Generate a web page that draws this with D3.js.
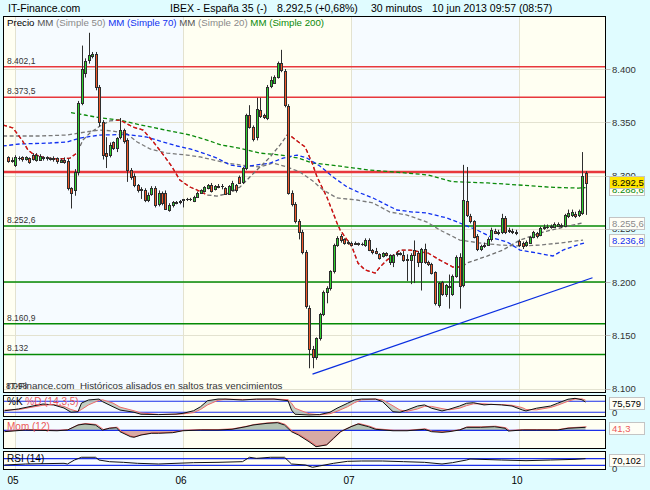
<!DOCTYPE html>
<html><head><meta charset="utf-8">
<script src="https://cdn.jsdelivr.net/npm/d3@7/dist/d3.min.js"></script>
<style>
html,body{margin:0;padding:0;background:#e0fcff;overflow:hidden}
svg{display:block}
text{font-family:"Liberation Sans",Arial,sans-serif;white-space:pre}
</style></head><body>
<svg id="chart" width="650" height="490"></svg>
<script>
// ---- IBEX 35, 10-minute bars, 05-10 jun 2013 ----
const opens=[8317,8314,8310,8316,8317,8315.5,8316,8319,8314.5,8315,
8317,8316,8316,8315.5,8316,8313,8315,8314,8288,8286,
8303,8368,8396,8408.5,8412,8414,8383,8350,8321,8319,
8331,8326,8336,8343,8333,8305,8300,8291,8286,8286,
8277,8283,8288,8273,8284,8284,8268,8272,8274,8275,
8277,8277.5,8278,8276,8280,8284,8285,8288,8291,8287.5,
8289.5,8290,8288,8283,8286,8291,8298.5,8294,8307,8357,
8345.5,8336,8361.5,8357,8354,8384,8387,8392.5,8405.6,8398,
8365,8284,8273,8257,8247,8228,8176,8137,8130,8147,
8170,8191,8194,8210,8235,8243,8240,8237,8236.6,8236,
8236,8235.5,8234.7,8239.4,8230,8229,8226,8224,8227,8218.5,
8219,8226,8227,8225,8222,8221,8230,8227,8219,8231,
8219,8217,8209,8178,8200,8189,8195,8189,8205.6,8223.5,
8197,8276,8262,8257,8243,8231,8233.5,8235,8240,8248,
8246,8247,8260,8249,8248,8247,8238.5,8237,8235,8237,
8242,8246,8244,8250.7,8252,8252,8252,8253,8253.5,8253,
8262,8263,8263.5,8263,8265,8302.5];
const highs=[8318,8317,8319,8318,8318,8318,8317,8321,8321,8320,
8318,8318,8317,8318,8317,8316,8317,8316,8289,8306,
8370,8422,8410,8434,8416,8416,8385,8352,8336,8331,
8332,8336,8354,8344,8335,8307,8302,8292,8289,8288,
8284,8290,8290,8286,8285,8286,8274,8276,8276,8277,
8278,8279,8279,8281,8285,8287,8290,8292,8293,8291,
8292,8292,8289,8291,8295,8292,8300,8308,8358,8366,
8347,8373,8373,8358,8385,8393,8394,8407,8418,8400,
8367,8286,8275,8259,8249,8230,8178,8140,8148,8171,
8192,8196,8211,8236,8243,8245,8241,8239,8238,8238,
8237,8237,8241,8241,8231,8232,8227,8228,8228,8226,
8226,8229,8228,8229,8226,8227,8239,8229,8232,8236,
8220,8218,8210,8200,8201,8198,8207,8207,8225,8227,
8310,8308,8264,8258,8245,8235,8237,8242,8251,8250,
8249,8264,8262,8251,8250,8249,8240,8238,8239,8243,
8248,8247,8252,8254,8254,8254,8256,8256,8255,8264,
8268,8268,8266,8268,8322,8304];
const lows=[8312,8312,8308,8314,8313,8314,8311,8314,8313,8314,
8314,8314,8314,8313,8311,8312,8311,8286,8269,8281,
8300,8366,8392,8405,8410,8380,8346,8315,8307,8317,
8324,8322,8334,8330,8294,8296,8289,8284,8278,8275,
8275,8281,8270,8271,8272,8268,8266,8270,8273,8273,
8270,8276,8276,8275,8279,8283,8284,8287,8284,8286,
8288,8287,8282,8282,8285,8284,8292,8292,8305,8344,
8332,8333,8354,8353,8352,8382,8386,8391,8397,8364,
8282,8271,8255,8240,8226,8175,8119,8119,8127,8145,
8168,8180,8192,8208,8233,8237,8235,8235,8234,8235,
8234,8234,8233,8229,8226,8226,8221,8223,8224,8216,
8214,8224,8225,8219,8201,8198,8199,8214,8192,8217,
8215,8207,8178,8176,8187,8186,8175,8187,8204,8175,
8195,8261,8255,8241,8229,8229,8232,8234,8238,8245,
8244,8245,8245,8246,8245,8244,8233,8231,8233,8236,
8241,8241,8243,8249,8250,8250,8251,8252,8251,8252,
8260,8261,8260,8261,8263,8263];
const closes=[8314,8315,8317.5,8316.5,8315.5,8317,8313,8315.5,8319,8318,
8316,8317,8315.5,8316,8314,8315,8313,8288,8284,8303,
8368,8400,8407.5,8413,8414,8383,8350,8319,8318,8329,
8326,8335,8343,8332,8305,8299,8291,8286,8287,8277,
8282,8288,8272,8284,8274,8268.5,8272,8275,8275,8276,
8277.5,8278,8277.5,8280,8284,8286,8289,8291,8285,8290,
8290.5,8290.2,8283,8290,8293,8286,8293,8307,8357,8345.5,
8334,8362.5,8356,8355,8383,8390,8392.5,8405.6,8399,8366,
8284,8273,8257,8247,8228,8177,8137,8130,8147,8170,
8191,8194,8210,8235,8241,8239,8237,8237.3,8235,8236.5,
8236.2,8236,8239.4,8230,8228,8227,8222.5,8227,8225,8225,
8225,8227,8226,8220.6,8221,8225,8225,8219,8231,8219,
8217,8208.5,8180,8199,8189,8197,8196,8205.6,8223.5,8196,
8277,8263,8257,8242.5,8230.7,8233.5,8235,8240,8249,8246,
8247,8260,8247,8248,8247,8246,8235,8234,8238,8242,
8247,8243,8250.7,8252,8251.5,8252.5,8254,8254,8253,8263,
8265,8265.5,8262,8266.5,8300,8292.5];
const prevClose=8236.5;

const dayLabels=["05","06","07","10"];
const dayStarts=[2,50,98,146];
const priceTicks=[8100,8150,8200,8250,8300,8350,8400];
const redLevels=[8402.1,8373.5,8303.3];
const greenLevels=[8252.6,8200,8160.9,8132];
const tagLevels=[8402.1,8373.5,8252.6,8160.9,8132];
const lowTag=8098;

// moving averages, [bar, value]
const ma200=[[18,8359],[22,8356.8],[26,8354.3],[32,8352],[38,8347.4],[45,8342.7],[52,8338],[55,8335.2],[61,8328.6],[66,8325.8],[72,8321],[78,8319.2],[83,8316.3],[87,8311.7],[92,8309.9],[99,8307],[103,8305.2],[114,8302.3],[120,8300.5],[127,8294.2],[137,8293],[146,8291.1],[156,8288.8],[163,8288.2],[165,8288.6]];
const ma70=[[-1.5,8327.7],[3.4,8329.6],[12,8330.5],[17,8331.5],[20.6,8335.2],[26.3,8338],[34,8338.5],[39.7,8336.1],[44.3,8331.5],[48.3,8327.7],[52,8324.9],[55.7,8321.1],[59.7,8316.4],[63.4,8309.9],[67.1,8308],[71.1,8309.9],[74.9,8311.7],[78.6,8316.4],[82.6,8319.2],[85.4,8316.4],[89.1,8308.9],[92.9,8298.6],[96.9,8289.2],[100.6,8283.6],[104.3,8278.9],[107.1,8274.2],[111.1,8267.6],[115.7,8265.7],[119.7,8264.8],[125.4,8260.1],[129.1,8255.4],[134,8248.8],[138.6,8241.3],[142.6,8237.6],[146.3,8230],[151.1,8227.2],[155.7,8224.4],[158.6,8230],[162.6,8234.7],[165,8236.8]];
const ma50=[[-1.4,8337.1],[9.1,8337.1],[16.9,8338],[22,8340.8],[26.3,8342.7],[30,8341.8],[34,8339],[36.9,8331.5],[40.6,8324.9],[45.4,8321.1],[51.1,8319.2],[54.9,8317.4],[62.6,8311.7],[66.3,8309.9],[72,8308],[75.7,8311.7],[79.7,8308],[83.4,8303.3],[87.1,8294.8],[90,8286.4],[94,8278.9],[99.7,8277],[104.3,8274.2],[109.1,8265.7],[114,8262.9],[119.7,8256.3],[123.4,8248.8],[129.1,8239.4],[134.9,8236.6],[140.6,8234.7],[146.3,8233.8],[152,8234.7],[157.7,8236.6],[164.3,8239.4]];
const ma20=[[-1.4,8347.4],[1.4,8344.6],[4,8333.3],[5.7,8324],[7.1,8320.2],[10.6,8316.4],[14.9,8315.5],[17.7,8316.4],[19.7,8321.1],[21.4,8333.3],[23.4,8339.9],[26.3,8346.5],[29.1,8351.2],[32,8352.1],[35.7,8345.5],[38.6,8342.7],[41.1,8333.3],[44,8321.1],[46.9,8307.9],[49.1,8295.8],[52,8289.2],[54,8286.4],[56.9,8281.7],[59.7,8280.7],[63.4,8283.6],[66.3,8289.2],[69.1,8298.6],[72,8308],[74.9,8317.4],[77.7,8328.6],[80,8339],[83.4,8330.5],[84.9,8326.8],[86.9,8311.7],[88.3,8298.6],[89.7,8289.2],[91.1,8279.8],[92.9,8264.8],[94,8255.4],[94.9,8248.8],[96.3,8242.3],[98.3,8232.9],[100,8217.8],[102,8211.3],[104.9,8208.4],[106.3,8214.1],[108.3,8220.6],[112,8230],[114.9,8230],[117.7,8228.2],[120,8227.2],[123.4,8220.6],[127.1,8214.1],[129.7,8214.1],[131.1,8217.8],[136.9,8224.4],[141.4,8230],[146.3,8239.4],[152.9,8246.9],[157.7,8250.7],[164.3,8255.6]];
const ma20Red=[[-3,19.5],[31,57],[79.5,130.5]];
const trend=[[87,8113.5],[167,8204]];

// oscillators, [bar, value]
const stoK=[[-1,28],[3,38],[6,50],[10,65],[13,60],[16,43],[18,20],[20,23],[21,70],[23,87],[26,92],[27,78],[30,50],[32,32],[36,20],[38,9],[43,7],[48,10],[50,14],[53,28],[55,50],[57,83],[60,92],[62,92],[67,87],[71,92],[76,92],[80,83],[81,32],[82,9],[86,5],[89,7],[92,20],[94,42],[97,69],[99,87],[101,92],[105,92],[107,78],[110,23],[112,20],[114,32],[117,54],[119,60],[121,42],[124,27],[126,36],[129,54],[131,69],[133,72],[136,60],[138,63],[141,60],[144,54],[147,32],[148,27],[151,42],[155,54],[157,69],[160,91],[162,96],[164,88],[165,75.579]];
const stoD=[[-1,32],[3,34],[6,45],[10,58],[13,62],[16,52],[18,35],[20,24],[21,35],[23,60],[26,85],[27,88],[30,70],[32,48],[36,28],[38,16],[43,8],[48,9],[50,11],[53,18],[55,35],[57,60],[60,85],[62,91],[67,90],[71,90],[76,92],[80,89],[81,70],[82,42],[86,12],[89,6],[92,12],[94,25],[97,50],[99,72],[101,88],[105,92],[107,88],[110,55],[112,32],[114,25],[117,38],[119,52],[121,52],[124,40],[126,33],[129,42],[131,56],[133,66],[136,66],[138,63],[141,62],[144,58],[147,45],[148,35],[151,33],[155,46],[157,58],[160,80],[162,92],[164,93],[165,86]];
const mom=[[-1,-19],[5,4],[14,-6],[17,4],[20,73],[22,87],[25,73],[27,4],[29,28],[31,36],[32,-19],[35,-88],[36,-96],[38,-65],[41,-41],[43,-41],[47,-33],[50,-6],[55,4],[60,4],[64,14],[68,50],[70,73],[74,96],[77,105],[79,73],[81,-19],[83,-65],[86,-157],[88,-226],[91,-202],[93,-110],[95,-19],[98,50],[100,87],[103,50],[105,14],[110,-6],[114,-6],[119,14],[121,-19],[124,-28],[126,-19],[129,4],[131,41],[135,41],[139,50],[142,28],[143,-10],[147,4],[151,4],[157,4],[160,28],[165,41.3]];
const rsi=[[-1,31.8],[5,38],[16,42],[17,38],[19,62],[21,78.5],[25,78.5],[26,62],[29,51.8],[33,48],[37,42],[43,38],[48,42],[53,46],[60,48],[67,52],[69,78.5],[71,72],[75,78.5],[79,78.5],[81,38],[85,32],[87,18],[89,26],[93,42],[97,54],[101,56],[107,56],[113,52],[119,48],[124,38],[127,46],[131,62],[132,68],[141,62],[148,58],[155,62],[162,66],[165,70.102]];

// ---- layout ----
const svg=d3.select("#chart");
const L=3.5,R=605.5;
const P={main:{t:16.5,b:392.5},sto:{t:395.5,b:416.5},mom:{t:419.5,b:448.5},rsi:{t:451.5,b:469.5}};
const x=d3.scaleLinear().domain([0,165]).range([8,585.5]);
const y=d3.scaleLinear().domain([8100,8400]).range([388.5,69]);
const ySto=d3.scaleLinear().domain([0,100]).range([415.9,397.6]);
const yMom=d3.scaleLinear().domain([-244,142]).range([448,420]);
const yRsi=d3.scaleLinear().domain([0,100]).range([470.3,453.7]);

const loc=d3.formatLocale({decimal:",",thousands:".",grouping:[3],currency:["",""]});
const f0=loc.format(",d"), f1=loc.format(",.1f"), f2=loc.format(",.2f"), f3=loc.format(",.3f");
const fp=v=>Number.isInteger(v)?f0(v):f1(v);

const defs=svg.append("defs");
const px=v=>Math.round(v)+0.5;
const bandEdges=[L,...dayStarts.map(d=>px(x(d))),R];
const bandFill=["#fffff2","#f6fbff","#fffff2","#f6fbff","#fffff2"];

function pane(id,p){
  defs.append("clipPath").attr("id",id).append("rect")
    .attr("x",L).attr("y",p.t).attr("width",R-L).attr("height",p.b-p.t);
  const g=svg.append("g").attr("clip-path",`url(#${id})`);
  bandFill.forEach((c,i)=>g.append("rect").attr("x",bandEdges[i]).attr("y",p.t)
    .attr("width",bandEdges[i+1]-bandEdges[i]).attr("height",p.b-p.t).attr("fill",c));
  dayStarts.forEach(d=>g.append("line").attr("x1",px(x(d))).attr("x2",px(x(d)))
    .attr("y1",p.t).attr("y2",p.b).attr("stroke","#e3e2d0"));
  return g;
}
function frame(p){
  svg.append("rect").attr("x",L).attr("y",p.t).attr("width",R-L).attr("height",p.b-p.t)
    .attr("fill","none").attr("stroke","#000");
}

// ---- main pane ----
const gm=pane("cm",P.main);
priceTicks.forEach(v=>gm.append("line").attr("x1",L).attr("x2",R).attr("y1",px(y(v))).attr("y2",px(y(v))).attr("stroke","#e3e2d0"));
greenLevels.forEach(v=>gm.append("line").attr("x1",L).attr("x2",R).attr("y1",y(v)).attr("y2",y(v)).attr("stroke","#058a05").attr("stroke-width",1.5));
redLevels.forEach((v,i)=>gm.append("line").attr("x1",L).attr("x2",R).attr("y1",y(v)).attr("y2",y(v)).attr("stroke","#e8383c").attr("stroke-width",i===2?2.6:1.5));

tagLevels.forEach(v=>gm.append("text").attr("x",7).attr("y",y(v)-3).attr("font-size",8.5).attr("fill","#333").text(fp(v)));

const line=d3.line().x(d=>x(d[0])).y(d=>y(d[1]));
function dashed(pts,color,extra){
  const p=gm.append("path").attr("d",line(pts)).attr("fill","none").attr("stroke",color)
    .attr("stroke-width",1.3).attr("stroke-dasharray","4,2.5");
  if(extra) p.attr("clip-path",extra);
}
dashed(ma200,"#0a8a0a");
dashed(ma50,"#7a7a7a");
dashed(ma70,"#1030f0");
// fast average: gray, with red stretches
const rc=defs.append("clipPath").attr("id","redpart");
ma20Red.forEach(r=>rc.append("rect").attr("x",x(r[0])).attr("width",x(r[1])-x(r[0])).attr("y",0).attr("height",490));
dashed(ma20,"#6e6e6e");
dashed(ma20,"#e00c0c","url(#redpart)");

// candles
const bars=d3.range(opens.length).map(i=>({i,o:opens[i],h:highs[i],l:lows[i],c:closes[i]}));
const cg=gm.append("g");
bars.forEach(d=>{
  const cx=Math.round(x(d.i));
  cg.append("line").attr("x1",cx+0.5).attr("x2",cx+0.5).attr("y1",y(d.h)).attr("y2",y(d.l)).attr("stroke","#2e2e2e");
  const top=Math.round(y(Math.max(d.o,d.c)))+0.5, bot=Math.round(y(Math.min(d.o,d.c)))+0.5;
  if(bot-top<1){
    cg.append("rect").attr("x",cx-1).attr("y",top-0.5).attr("width",3).attr("height",1).attr("fill","#2e2e2e");
  } else {
    cg.append("rect").attr("x",cx-0.5).attr("y",top).attr("width",2).attr("height",bot-top)
      .attr("fill",d.c>=d.o?"#2ed02e":"#f0582a").attr("stroke","#2e2e2e");
  }
});
gm.append("path").attr("d",line(trend)).attr("stroke","#0a2ee0").attr("stroke-width",1.3).attr("fill","none");

// legend + footnote
const lg=gm.append("text").attr("x",7).attr("y",26).attr("font-size",9.7);
[["Precio ","#000"],["MM","#555"],[" (Simple 50) ","#8a8a8a"],["MM (Simple 70) ","#1030f0"],["MM","#555"],[" (Simple 20) ","#8a8a8a"],["MM (Simple 200)","#0a8a0a"]]
  .forEach(s=>lg.append("tspan").attr("fill",s[1]).text(s[0]));
gm.append("text").attr("x",6).attr("y",389).attr("font-size",8.5).attr("fill","#333").text(fp(lowTag));
gm.append("text").attr("x",7).attr("y",389).attr("font-size",9.8).attr("fill","#333")
  .text("IT-Finance.com  Históricos alisados en saltos tras vencimientos");
frame(P.main);

// right price axis
priceTicks.forEach(v=>{
  svg.append("line").attr("x1",R).attr("x2",R+5).attr("y1",px(y(v))).attr("y2",px(y(v))).attr("stroke","#bdbdbd");
  svg.append("text").attr("x",612).attr("y",y(v)+3.5).attr("font-size",9.5).attr("fill","#333").text(f0(v));
});
function tag(cy,txt,color,bg){
  svg.append("rect").attr("x",609.5).attr("y",Math.round(cy-6)+0.5).attr("width",35).attr("height",12)
    .attr("fill",bg).attr("stroke","#c4c4c4");
  svg.append("text").attr("x",612).attr("y",Math.round(cy)+4).attr("font-size",9.5).attr("fill",color).text(txt);
}
const last=closes[closes.length-1];
tag(y(ma200.at(-1)[1])+1,f1(ma200.at(-1)[1]),"#0a8a0a","#fefef6");
tag(y(last)-1.5,f1(last),"#000","#ffe600");
tag(y(ma20.at(-1)[1]),f1(ma20.at(-1)[1]),"#8a8a8a","#fefef6");
tag(y(ma70.at(-1)[1])-3,f1(ma70.at(-1)[1]),"#1030f0","#fefef6");

// ---- stochastic ----
const gs=pane("cs",P.sto);
[80,20].forEach(v=>gs.append("line").attr("x1",L).attr("x2",R).attr("y1",ySto(v)).attr("y2",ySto(v)).attr("stroke","#1a2ee8").attr("stroke-width",1.2));
gs.append("path").attr("d",d3.area().x(d=>x(d[0])).y0((d,i)=>ySto(stoD[i][1])).y1(d=>ySto(d[1]))(stoK))
  .attr("fill","#b9c6b9").attr("opacity",0.85);
gs.append("path").attr("d",d3.line().x(d=>x(d[0])).y(d=>ySto(d[1]))(stoD)).attr("fill","none").attr("stroke","#f06a6a");
gs.append("path").attr("d",d3.line().x(d=>x(d[0])).y(d=>ySto(d[1]))(stoK)).attr("fill","none").attr("stroke","#111");
const sl=gs.append("text").attr("x",7).attr("y",405).attr("font-size",10);
sl.append("tspan").attr("fill","#000").text("%K ");
sl.append("tspan").attr("fill","#ec5a5a").text("%D (14,3,5)");
frame(P.sto);
tag(402.5,f3(stoK.at(-1)[1]),"#000","#fefef6");
svg.append("text").attr("x",612).attr("y",416).attr("font-size",9.5).attr("fill","#333").text("0");

// ---- momentum ----
const gmo=pane("cmo",P.mom);
const z=yMom(0);
defs.append("clipPath").attr("id","mup").append("rect").attr("x",0).attr("y",0).attr("width",650).attr("height",z);
defs.append("clipPath").attr("id","mdn").append("rect").attr("x",0).attr("y",z).attr("width",650).attr("height",490);
const marea=d3.area().x(d=>x(d[0])).y0(z).y1(d=>yMom(d[1]));
gmo.append("g").attr("clip-path","url(#mup)").append("path").attr("d",marea(mom)).attr("fill","#b3c3b3");
gmo.append("g").attr("clip-path","url(#mdn)").append("path").attr("d",marea(mom)).attr("fill","#d8aaa4");
gmo.append("line").attr("x1",L).attr("x2",R).attr("y1",z).attr("y2",z).attr("stroke","#1a2ee8").attr("stroke-width",1.2);
gmo.append("path").attr("d",d3.line().x(d=>x(d[0])+1).y(d=>yMom(d[1])-0.5)(mom)).attr("fill","none").attr("stroke","#ee6a6a");
gmo.append("path").attr("d",d3.line().x(d=>x(d[0])).y(d=>yMom(d[1]))(mom)).attr("fill","none").attr("stroke","#111");
gmo.append("text").attr("x",7).attr("y",430).attr("font-size",10).attr("fill","#ec5a5a").text("Mom (12)");
frame(P.mom);
tag(yMom(mom.at(-1)[1])+1,f1(mom.at(-1)[1]),"#ec5a5a","#fefef6");

// ---- RSI ----
const gr=pane("cr",P.rsi);
[70,30].forEach(v=>gr.append("line").attr("x1",L).attr("x2",R).attr("y1",yRsi(v)).attr("y2",yRsi(v)).attr("stroke","#1a2ee8").attr("stroke-width",1.2));
gr.append("path").attr("d",d3.line().x(d=>x(d[0])).y(d=>yRsi(d[1]))(rsi)).attr("fill","none").attr("stroke","#111");
gr.append("text").attr("x",7).attr("y",461.5).attr("font-size",10).attr("fill","#000").text("RSI (14)");
frame(P.rsi);
tag(460,f3(rsi.at(-1)[1]),"#000","#fefef6");
svg.append("text").attr("x",612).attr("y",472).attr("font-size",9.5).attr("fill","#333").text("0");

// ---- day axis ----
dayStarts.forEach((d,i)=>svg.append("text").attr("x",Math.max(10,x(d)-2)).attr("y",484)
  .attr("text-anchor","middle").attr("font-size",10).attr("fill","#000").text(dayLabels[i]));

// ---- title ----
svg.append("text").attr("x",8).attr("y",12).attr("font-size",10.5).text("IT-Finance.com");
const chg=(last/prevClose-1)*100;
[[170,"IBEX - España 35 (-)"],[277,`${f1(last)} (${chg>=0?"+":""}${f2(chg)}%)`],[371,"30 minutos"],[432,"10 jun 2013 09:57 (08:57)"]]
  .forEach(s=>svg.append("text").attr("x",s[0]).attr("y",12).attr("font-size",10.5).text(s[1]));
</script>
</body></html>
